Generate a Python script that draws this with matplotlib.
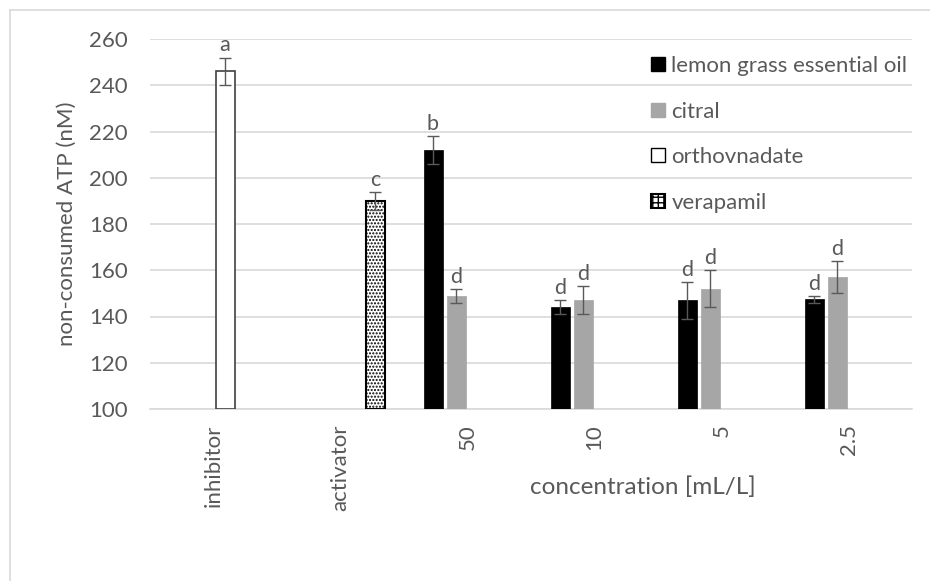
import numpy as np
import matplotlib.pyplot as plt
from matplotlib.patches import Patch
from matplotlib.lines import Line2D

plt.rcParams['font.family'] = ['Lato', 'DejaVu Sans']
plt.rcParams['hatch.linewidth'] = 1.0

categories = ['inhibitor', 'activator', '50', '10', '5', '2.5']

nan = np.nan
lemon = [nan, nan, 212, 144, 147, 147.5]
lemon_err = [nan, nan, 6, 3, 8, 1.5]
lemon_let = ['', '', 'b', 'd', 'd', 'd']

citral = [nan, nan, 149, 147, 152, 157]
citral_err = [nan, nan, 3, 6, 8, 7]
citral_let = ['', '', 'd', 'd', 'd', 'd']

ortho = [246, nan, nan, nan, nan, nan]
ortho_err = [6, nan, nan, nan, nan, nan]
ortho_let = ['a', '', '', '', '', '']

verap = [nan, 190, nan, nan, nan, nan]
verap_err = [nan, 4, nan, nan, nan, nan]
verap_let = ['', 'c', '', '', '', '']

txt = '#595959'
grid = '#d9d9d9'

fig = plt.figure(figsize=(9.3, 5.81), dpi=100)
ax = fig.add_axes([150/930, 172/581, 762/930, 370/581])

x = np.arange(len(categories))
slot = 23/127.
w = 19/127.

series = [
    (lemon, lemon_err, lemon_let, dict(color='black', edgecolor='black', linewidth=0.5)),
    (citral, citral_err, citral_let, dict(color='#a6a6a6', edgecolor='#a6a6a6', linewidth=0.5)),
    (ortho, ortho_err, ortho_let, dict(color='white', edgecolor='#404040', linewidth=1.2)),
    (verap, verap_err, verap_let, dict(color='white', edgecolor='black', linewidth=1.5, hatch='.....')),
]

for k, (vals, errs, lets, style) in enumerate(series):
    xs = x + (k - 1.5)*slot
    vals = np.array(vals, dtype=float)
    errs = np.array(errs, dtype=float)
    ax.bar(xs, vals - 100, width=w, bottom=100, zorder=3, **style)
    ax.errorbar(xs, vals, yerr=errs, fmt='none', ecolor=txt, elinewidth=1,
                capsize=4.5, capthick=1, zorder=4)
    for xi, v, e, l in zip(xs, vals, errs, lets):
        if l:
            ax.annotate(l, (xi, v + e), xytext=(0, 1.5), textcoords='offset points',
                        ha='center', va='bottom', fontsize=15.5, color=txt)

ax.set_xlim(-0.5, 5.5)
ax.set_ylim(100, 260)
ax.set_yticks(np.arange(100, 261, 20))
ax.set_xticks(x)
ax.set_xticklabels(categories, rotation=90, va='top')
ax.tick_params(axis='y', length=0, pad=16, labelsize=16, labelcolor=txt)
ax.tick_params(axis='x', length=0, pad=11, labelsize=16, labelcolor=txt)
ax.grid(axis='y', color=grid, linewidth=1.2, zorder=0)
for s in ['top', 'right', 'left']:
    ax.spines[s].set_visible(False)
ax.spines['bottom'].set_color(grid)
ax.spines['bottom'].set_linewidth(1.2)
ax.spines['bottom'].set_zorder(2)

fig.text(67/930, (581-224)/581, 'non-consumed ATP (nM)', rotation=90,
         ha='center', va='center', fontsize=16, color=txt)
fig.text(643/930, (581-487)/581, 'concentration [mL/L]',
         ha='center', va='center', fontsize=17.5, color=txt)

handles = [Patch(facecolor='black', edgecolor='black'),
           Patch(facecolor='#a6a6a6', edgecolor='#a6a6a6'),
           Patch(facecolor='white', edgecolor='black', linewidth=1),
           Patch(facecolor='white', edgecolor='black', linewidth=1.5, hatch='+++')]
labels = ['lemon grass essential oil', 'citral', 'orthovnadate', 'verapamil']
leg = fig.legend(handles, labels, loc='upper left', bbox_to_anchor=(651/930, 1 - 56/581),
                 frameon=False, fontsize=16, handlelength=0.62, handleheight=0.62,
                 handletextpad=0.3, labelspacing=1.15, borderpad=0, borderaxespad=0)
for t in leg.get_texts():
    t.set_color(txt)

# chart area border
fig.add_artist(Line2D([10/930, 1], [1 - 10/581]*2, color=grid, linewidth=1.2))
fig.add_artist(Line2D([10/930]*2, [0, 1 - 10/581], color=grid, linewidth=1.2))

fig.savefig('out.png', dpi=100)
